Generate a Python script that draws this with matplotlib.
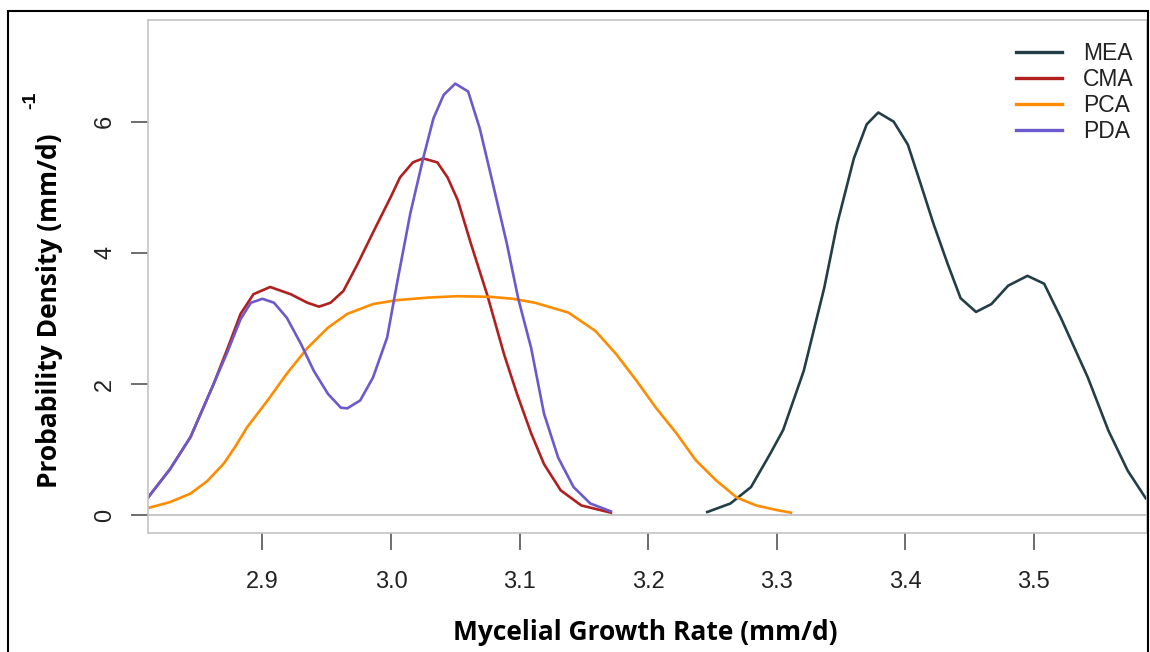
import matplotlib.pyplot as plt
from matplotlib.patches import Rectangle

# density curves (x = growth rate mm/d, y = density)
mea_x = [3.246, 3.264, 3.280, 3.295, 3.305, 3.321, 3.337, 3.347, 3.360, 3.370, 3.379,
         3.391, 3.402, 3.412, 3.422, 3.433, 3.443, 3.455, 3.467, 3.480, 3.495, 3.508,
         3.521, 3.542, 3.558, 3.573, 3.587]
mea_y = [0.05, 0.18, 0.43, 0.94, 1.30, 2.20, 3.47, 4.44, 5.44, 5.96, 6.14,
         6.00, 5.65, 5.05, 4.44, 3.83, 3.31, 3.10, 3.22, 3.50, 3.65, 3.53,
         3.01, 2.10, 1.29, 0.68, 0.26]

cma_x = [2.811, 2.828, 2.844, 2.862, 2.873, 2.883, 2.893, 2.906, 2.922, 2.935, 2.944,
         2.953, 2.963, 2.974, 2.987, 3.000, 3.007, 3.017, 3.025, 3.036, 3.044, 3.052,
         3.062, 3.075, 3.088, 3.098, 3.109, 3.119, 3.132, 3.148, 3.171]
cma_y = [0.27, 0.70, 1.19, 2.00, 2.55, 3.07, 3.37, 3.48, 3.37, 3.24, 3.18,
         3.24, 3.42, 3.83, 4.35, 4.86, 5.15, 5.38, 5.44, 5.38, 5.15, 4.80,
         4.15, 3.35, 2.45, 1.85, 1.25, 0.78, 0.38, 0.15, 0.04]

pca_x = [2.811, 2.828, 2.844, 2.857, 2.870, 2.879, 2.888, 2.904, 2.919, 2.935, 2.951,
         2.966, 2.986, 3.005, 3.030, 3.052, 3.077, 3.095, 3.112, 3.138, 3.159, 3.175,
         3.191, 3.206, 3.222, 3.237, 3.253, 3.269, 3.284, 3.300, 3.311]
pca_y = [0.11, 0.20, 0.33, 0.52, 0.79, 1.05, 1.34, 1.75, 2.16, 2.55, 2.86,
         3.07, 3.22, 3.28, 3.32, 3.34, 3.33, 3.30, 3.24, 3.09, 2.81, 2.46,
         2.05, 1.64, 1.25, 0.84, 0.53, 0.27, 0.15, 0.08, 0.04]

pda_x = [2.811, 2.828, 2.844, 2.862, 2.873, 2.883, 2.891, 2.900, 2.909, 2.919, 2.930,
         2.940, 2.951, 2.961, 2.966, 2.976, 2.986, 2.997, 3.005, 3.015, 3.025, 3.033,
         3.041, 3.050, 3.060, 3.069, 3.077, 3.090, 3.099, 3.109, 3.119, 3.130, 3.142,
         3.155, 3.171]
pda_y = [0.27, 0.70, 1.19, 2.00, 2.50, 2.99, 3.24, 3.30, 3.24, 3.01, 2.61,
         2.20, 1.85, 1.64, 1.63, 1.75, 2.10, 2.71, 3.57, 4.60, 5.44, 6.05,
         6.41, 6.58, 6.46, 5.90, 5.24, 4.15, 3.30, 2.55, 1.55, 0.88, 0.43,
         0.18, 0.06]

names = ['MEA', 'CMA', 'PCA', 'PDA']
colors = ['#243e48', '#b0201e', '#ff8c00', '#6a5acd']

fig = plt.figure(figsize=(11.5, 6.52), dpi=100)
ax = fig.add_axes([148 / 1150, 1 - 533 / 652, 999 / 1150, 513 / 652])

series = [(mea_x, mea_y), (cma_x, cma_y), (pca_x, pca_y), (pda_x, pda_y)]
for (xs, ys), name, c in zip(series, names, colors):
    ax.plot(xs, ys, color=c, lw=1.9, label=name, solid_joinstyle='round')

ax.axhline(0, color='#bdbdbd', lw=1.2, zorder=0)

ax.set_xlim(2.811, 3.588)
ax.set_ylim(-0.27, 7.55)
ax.set_xticks([2.9, 3.0, 3.1, 3.2, 3.3, 3.4, 3.5])
ax.set_xticklabels(['2.9', '3.0', '3.1', '3.2', '3.3', '3.4', '3.5'])
ax.set_yticks([0, 2, 4, 6])
ax.set_yticklabels(['0', '2', '4', '6'], rotation=90, va='center')

for s in ax.spines.values():
    s.set_color('#c4c4c4')
    s.set_linewidth(1.2)

ax.tick_params(axis='x', length=12, width=1.2, color='#555555', pad=15,
               labelsize=17, labelcolor='#222222')
ax.tick_params(axis='y', length=12, width=1.2, color='#555555', pad=11,
               labelsize=17, labelcolor='#222222')
for lab in ax.get_xticklabels() + ax.get_yticklabels():
    lab.set_family('Liberation Sans')

fig.text(645 / 1150, 1 - 633 / 652, 'Mycelial Growth Rate (mm/d)', ha='center', va='center',
         fontsize=19, fontweight='bold', family='Open Sans')
fig.text(50 / 1150, 1 - 311 / 652, 'Probability Density (mm/d)', ha='center', va='center',
         rotation=90, fontsize=19, fontweight='bold', family='Open Sans')
fig.text(31 / 1150, 1 - 100 / 652, '-1', ha='center', va='center',
         rotation=90, fontsize=14, fontweight='bold', family='Liberation Sans')

leg = ax.legend(loc='upper right', bbox_to_anchor=(1150 / 1150, 1 - 26 / 652),
                bbox_transform=fig.transFigure, frameon=False,
                handlelength=2.0, handletextpad=0.95, labelspacing=0.13,
                borderpad=0.2, prop={'family': 'Liberation Sans', 'size': 16.5})
for t in leg.get_texts():
    t.set_color('#222222')
for h in leg.get_lines():
    h.set_linewidth(2.4)

# black frame around the figure
fig.patches.append(Rectangle((8 / 1150, -0.05), (1148 - 8) / 1150, 1.05 - 11 / 652,
                             transform=fig.transFigure, fill=False, ec='black', lw=1.5))

fig.savefig('out.png', dpi=100)
